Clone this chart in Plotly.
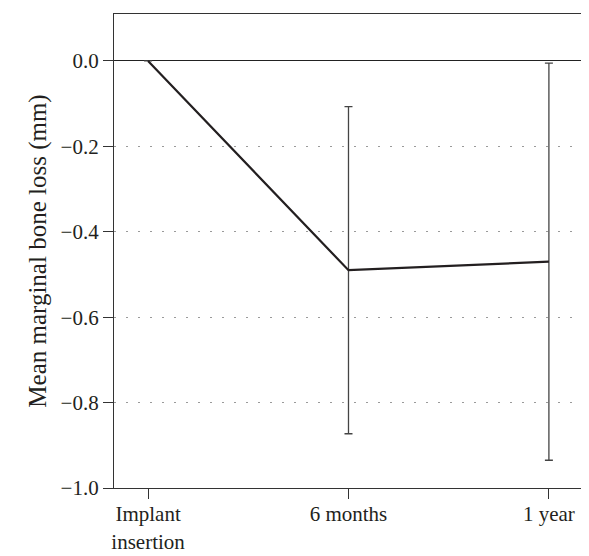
import plotly.graph_objects as go

categories = ["Implant<br>insertion", "6 months", "1 year"]
mean_loss = [0.0, -0.49, -0.47]
err_plus = [0.0, 0.383, 0.465]
err_minus = [0.0, 0.383, 0.465]
y_ticks = [0.0, -0.2, -0.4, -0.6, -0.8, -1.0]
y_ticktext = ["0.0", "\u22120.2", "\u22120.4", "\u22120.6", "\u22120.8", "\u22121.0"]

ink = "#231f20"

fig = go.Figure()
fig.add_trace(go.Scatter(
    x=list(range(len(categories))), y=mean_loss, mode="lines",
    line=dict(color=ink, width=2.2),
    error_y=dict(type="data", symmetric=False, array=err_plus, arrayminus=err_minus,
                 color="#444444", thickness=1.3, width=4),
    showlegend=False,
))

fig.update_layout(
    width=589, height=556,
    margin=dict(l=106, r=2, t=6, b=76),
    plot_bgcolor="white", paper_bgcolor="white",
    font=dict(family="Liberation Serif", size=21, color=ink),
)
fig.update_xaxes(
    range=[-0.17, 2.23], tickvals=list(range(len(categories))), ticktext=categories,
    showgrid=False, zeroline=False,
    showline=True, linecolor="#333333", linewidth=1.2, mirror=True,
    ticks="outside", ticklen=10, tickcolor="#333333", tickwidth=1.2,
    ticklabelstandoff=-3,
)
fig.update_yaxes(
    range=[-1.0, 0.11], tickvals=y_ticks, ticktext=y_ticktext,
    title=dict(text="Mean marginal bone loss (mm)", standoff=6),
    showgrid=True, gridcolor="#9a9a9a", gridwidth=1.3, griddash="2px,10px",
    zeroline=True, zerolinecolor="#222222", zerolinewidth=1.3,
    showline=True, linecolor="#333333", linewidth=1.2, mirror=True,
    ticks="outside", ticklen=10, tickcolor="#333333", tickwidth=1.2,
)

fig.write_html("out.html")
